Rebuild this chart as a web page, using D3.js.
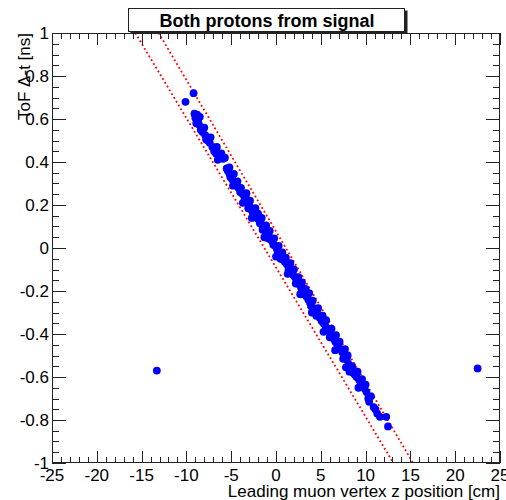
<!DOCTYPE html>
<html>
<head>
<meta charset="utf-8">
<script src="https://cdn.jsdelivr.net/npm/d3@7"></script>
<style>
  body { margin: 0; background: #fff; }
  svg { display: block; font-family: "Liberation Sans", Arial, Helvetica, sans-serif; }
</style>
</head>
<body>
<script>
//points: leading muon vertex z [cm] and ToF delta-t [ns]
var zValues = [
  -9.2, -10.1, -9.1, -8.8, -9.0, -8.7, -8.6, -8.4, -8.2, -7.9, -7.6, -7.4, -7.1, -6.9, -6.7, -6.3, -5.9, -5.7,
  -5.5, -5.4, -5.2, -5.1, -4.9, -4.6, -4.4, -4.2, -4.0, -3.8, -3.6, -3.4, -3.5, -3.2, -3.0, -3.1, -2.8, -2.6,
  -2.4, -2.5, -2.1, -1.9, -1.8, -1.6, -1.4, -1.5, -1.2, -1.0, -0.8, -0.9, -0.6, -0.4, -0.3, -0.1, 0.1, 0.2,
  0.4, 0.5, 0.8, 1.0, 1.2, 1.5, 1.4, 1.7, 1.9, 2.1, 2.3, 2.2, 2.6, 2.8, 3.0, 3.1, 3.4, 3.6, 3.8, 3.9,
  4.2, 4.4, 4.6, 4.5, 4.9, 5.1, 5.3, 5.5, 5.7, 5.9, 6.1, 6.0, 6.4, 6.6, 6.8, 7.0, 7.2, 7.4, 7.6, 7.5,
  7.9, 8.1, 8.3, 8.2, 8.6, 8.8, 9.0, 9.3, 9.5, 9.7, 9.9, 10.1, 10.3, 10.4, 10.9, 11.1, 11.3, 11.6, 12.3, 12.5,
  -8.5, -8.0, -7.3, -6.6, -6.1, -5.2, -4.7, -4.3, -3.9, -3.3, -2.9, -2.3, -2.0, -1.6, -1.1, -0.7, -0.2, 0.3,
  0.7, 1.1, 1.6, 2.0, 2.5, 2.9, 3.3, 3.7, 4.1, 4.7, 5.2, 5.6, 6.2, 6.7, 7.1, 7.7, 8.0, 8.5, 9.1, 9.6, 10.0, 10.6,
  -8.9, -7.8, -6.5, -4.8, -3.7, -2.7, -1.3, 0.0, 1.3, 2.7, 4.0, 5.3, 6.6, 7.8, 9.2,
  -13.3, 22.5
];
var tValues = [
  0.72, 0.68, 0.625, 0.62, 0.605, 0.595, 0.575, 0.55, 0.54, 0.525, 0.50, 0.49, 0.47, 0.45, 0.44, 0.43, 0.415, 0.42,
  0.37, 0.36, 0.345, 0.33, 0.32, 0.30, 0.295, 0.28, 0.26, 0.255, 0.245, 0.24, 0.225, 0.21, 0.20, 0.185, 0.18, 0.165,
  0.16, 0.145, 0.14, 0.13, 0.115, 0.11, 0.10, 0.085, 0.08, 0.07, 0.06, 0.045, 0.04, 0.03, 0.015, 0.01, -0.005, -0.02,
  -0.035, -0.05, -0.055, -0.065, -0.075, -0.085, -0.10, -0.11, -0.125, -0.135, -0.15, -0.165, -0.17, -0.185, -0.20, -0.215, -0.225, -0.24, -0.255, -0.27,
  -0.28, -0.295, -0.30, -0.315, -0.325, -0.34, -0.35, -0.36, -0.375, -0.385, -0.40, -0.415, -0.42, -0.435, -0.445, -0.46, -0.47, -0.485, -0.50, -0.515,
  -0.52, -0.54, -0.56, -0.575, -0.58, -0.59, -0.60, -0.615, -0.63, -0.645, -0.655, -0.67, -0.70, -0.715, -0.74, -0.75, -0.77, -0.785, -0.785, -0.83,
  0.61, 0.56, 0.515, 0.47, 0.44, 0.375, 0.345, 0.31, 0.28, 0.255, 0.22, 0.185, 0.16, 0.14, 0.105, 0.08, 0.045, 0.01,
  -0.02, -0.045, -0.07, -0.10, -0.135, -0.16, -0.19, -0.21, -0.245, -0.28, -0.315, -0.335, -0.375, -0.405, -0.435, -0.47, -0.50, -0.55, -0.575, -0.61, -0.635, -0.69,
  0.58, 0.505, 0.41, 0.29, 0.21, 0.14, 0.05, -0.04, -0.12, -0.215, -0.30, -0.39, -0.475, -0.555, -0.65,
  -0.57, -0.56
];

//the two red dotted cut lines, endpoints (z, t)
var cutLow = [[-15.7, 1], [13.1, -1]];
var cutHigh = [[-13.1, 1], [15.3, -1]];

var xTicks = [-25, -20, -15, -10, -5, 0, 5, 10, 15, 20, 25];
var yTicks = [-1, -0.8, -0.6, -0.4, -0.2, 0, 0.2, 0.4, 0.6, 0.8, 1];

var titleText = "Both protons from signal";
var xTitle = "Leading muon vertex z position [cm]";
var yTitle = "ToF \u0394-t [ns]";

//set width, height and frame edges
var w = 506;
var h = 500;
var fL = 52, fR = 500, fT = 33, fB = 463;

var xScale = d3.scaleLinear().domain([-25, 25]).range([fL, fR]);
var yScale = d3.scaleLinear().domain([-1, 1]).range([fB, fT]);

var svg = d3.select("body")
            .append("svg")
            .attr("width", w)
            .attr("height", h);

svg.append("defs").append("clipPath")
    .attr("id", "frame")
  .append("rect")
    .attr("x", fL)
    .attr("y", fT)
    .attr("width", fR - fL)
    .attr("height", fB - fT);

//cut lines
var line = d3.line()
             .x(function(d) { return xScale(d[0]); })
             .y(function(d) { return yScale(d[1]); });

svg.append("g")
    .attr("clip-path", "url(#frame)")
  .selectAll("path")
    .data([cutLow, cutHigh])
    .enter()
    .append("path")
    .attr("d", line)
    .attr("fill", "none")
    .attr("stroke", "#ff0000")
    .attr("stroke-width", 1.8)
    .attr("stroke-dasharray", "1.8,2.6");

//markers
var points = d3.range(zValues.length);
svg.append("g")
  .selectAll("circle")
    .data(points)
    .enter()
    .append("circle")
    .attr("cx", function(i) { return xScale(zValues[i]); })
    .attr("cy", function(i) { return yScale(tValues[i]); })
    .attr("r", 3.9)
    .attr("fill", "#0000ff");

//frame
svg.append("rect")
    .attr("x", fL + 0.5)
    .attr("y", fT + 0.5)
    .attr("width", fR - fL - 1)
    .attr("height", fB - fT - 1)
    .attr("fill", "none")
    .attr("stroke", "#222")
    .attr("stroke-width", 1);

//ticks, inside the frame, on all four sides
var xMinor = d3.range(-25, 26, 1);
var yMinor = d3.range(-20, 21, 1).map(function(d) { return d / 20; });

function isMajorX(d) { return d % 5 === 0; }
function isMajorY(d) { return Math.abs(Math.round(d * 5) - d * 5) < 1e-6; }

var tickG = svg.append("g").attr("stroke", "#222").attr("stroke-width", 1);

tickG.selectAll("line.xb")
    .data(xMinor)
    .enter()
    .append("line")
    .attr("x1", function(d) { return Math.round(xScale(d)) + 0.5; })
    .attr("x2", function(d) { return Math.round(xScale(d)) + 0.5; })
    .attr("y1", fB)
    .attr("y2", function(d) { return fB - (isMajorX(d) ? 12 : 6); });

tickG.selectAll("line.xt")
    .data(xMinor)
    .enter()
    .append("line")
    .attr("x1", function(d) { return Math.round(xScale(d)) + 0.5; })
    .attr("x2", function(d) { return Math.round(xScale(d)) + 0.5; })
    .attr("y1", fT)
    .attr("y2", function(d) { return fT + (isMajorX(d) ? 12 : 6); });

tickG.selectAll("line.yl")
    .data(yMinor)
    .enter()
    .append("line")
    .attr("y1", function(d) { return Math.round(yScale(d)) + 0.5; })
    .attr("y2", function(d) { return Math.round(yScale(d)) + 0.5; })
    .attr("x1", fL)
    .attr("x2", function(d) { return fL + (isMajorY(d) ? 14 : 7); });

tickG.selectAll("line.yr")
    .data(yMinor)
    .enter()
    .append("line")
    .attr("y1", function(d) { return Math.round(yScale(d)) + 0.5; })
    .attr("y2", function(d) { return Math.round(yScale(d)) + 0.5; })
    .attr("x1", fR)
    .attr("x2", function(d) { return fR - (isMajorY(d) ? 14 : 7); });

//tick labels
svg.selectAll("text.xl")
    .data(xTicks)
    .enter()
    .append("text")
    .attr("x", function(d) { return xScale(d); })
    .attr("y", 481)
    .attr("text-anchor", "middle")
    .style("font-size", "17px")
    .text(function(d) { return d; });

svg.selectAll("text.yl")
    .data(yTicks)
    .enter()
    .append("text")
    .attr("x", 49)
    .attr("y", function(d) { return yScale(d) + 6; })
    .attr("text-anchor", "end")
    .style("font-size", "17px")
    .text(function(d) { return d; });

//axis titles
svg.append("text")
    .attr("x", 500)
    .attr("y", 497)
    .attr("text-anchor", "end")
    .style("font-size", "17px")
    .text(xTitle);

svg.append("text")
    .attr("transform", "translate(30," + fT + ") rotate(-90)")
    .attr("text-anchor", "end")
    .style("font-size", "17px")
    .text(yTitle);

//title box with a small shadow
svg.append("rect")
    .attr("x", 130.5)
    .attr("y", 10.5)
    .attr("width", 277)
    .attr("height", 23)
    .attr("fill", "#222");
svg.append("rect")
    .attr("x", 128.5)
    .attr("y", 8.5)
    .attr("width", 276)
    .attr("height", 23)
    .attr("fill", "#fff")
    .attr("stroke", "#222");
svg.append("text")
    .attr("x", 267)
    .attr("y", 27)
    .attr("text-anchor", "middle")
    .style("font-size", "18px")
    .style("font-weight", "bold")
    .text(titleText);
</script>
</body>
</html>
